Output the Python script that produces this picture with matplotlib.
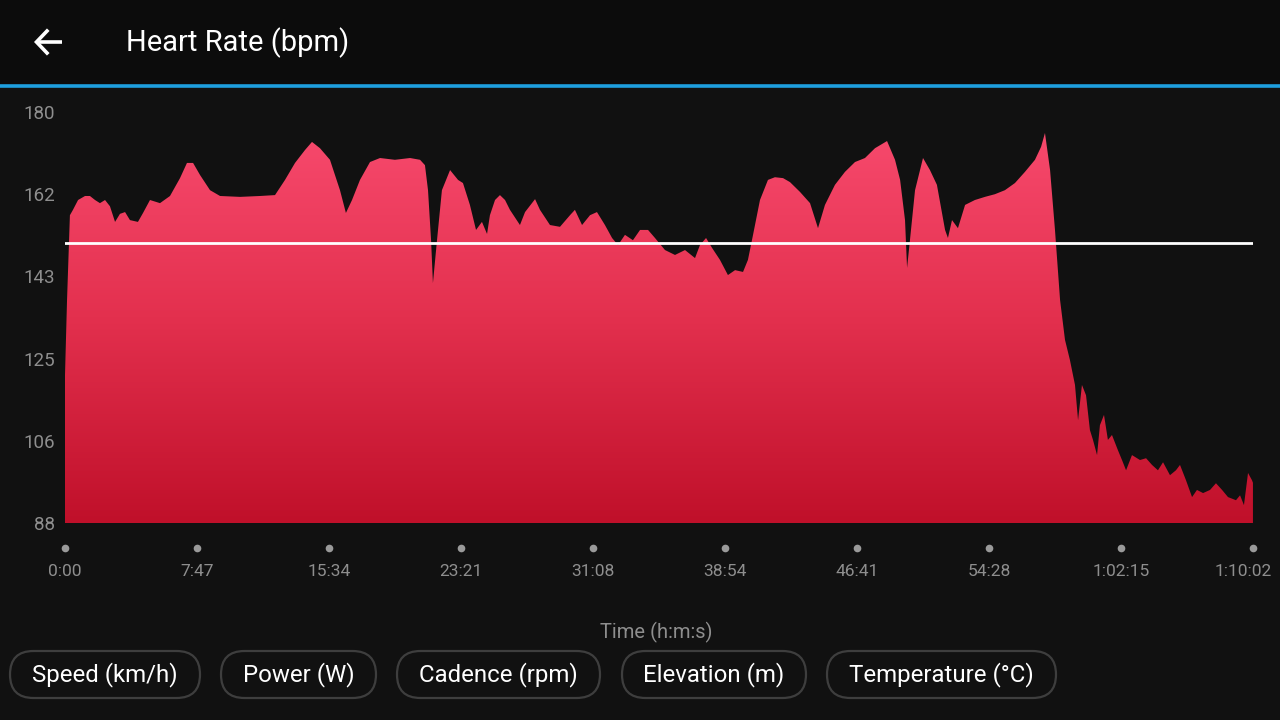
import numpy as np
import matplotlib
matplotlib.use("Agg")
import matplotlib.pyplot as plt
from matplotlib.patches import FancyBboxPatch
from matplotlib.colors import LinearSegmentedColormap

plt.rcParams['font.family'] = ['Roboto', 'DejaVu Sans']

# heart rate trace, time in minutes and bpm
t_min = [0, 0.12, 0.29, 0.47, 0.77, 1.18, 1.47, 1.77, 2.06, 2.36, 2.65, 2.95, 3.24, 3.54, 3.83, 4.30,
         4.60, 5.01, 5.60, 6.19, 6.78, 7.19, 7.55, 7.96, 8.55, 9.14, 10.32, 11.50, 12.38, 12.97, 13.56,
         14.15, 14.56, 15.03, 15.62, 16.21, 16.56, 16.92, 17.39, 17.98, 18.57, 19.45, 20.34, 20.93, 21.22,
         21.40, 21.58, 21.69, 21.93, 22.22, 22.70, 23.17, 23.46, 23.87, 24.23, 24.58, 24.88, 25.05, 25.35,
         25.64, 25.94, 26.23, 26.82, 27.12, 27.71, 28.00, 28.59, 29.18, 29.77, 30.06, 30.48, 30.95, 31.36,
         31.83, 32.25, 32.60, 33.01, 33.48, 33.90, 34.37, 34.78, 35.37, 35.96, 36.55, 37.14, 37.43, 37.79,
         38.14, 38.61, 39.08, 39.50, 39.97, 40.26, 40.56, 40.97, 41.44, 41.85, 42.33, 42.74, 43.33, 43.92,
         44.39, 44.80, 45.39, 45.98, 46.57, 47.16, 47.75, 48.46, 48.93, 49.23, 49.52, 49.64, 49.81, 50.11,
         50.58, 50.99, 51.40, 51.88, 52.05, 52.29, 52.64, 53.06, 53.64, 54.23, 54.82, 55.41, 56.00, 56.59,
         57.18, 57.54, 57.77, 58.07, 58.36, 58.66, 58.95, 59.24, 59.54, 59.72, 59.95, 60.19, 60.42, 60.60,
         60.84, 61.01, 61.25, 61.48, 61.72, 62.07, 62.31, 62.55, 62.90, 63.37, 63.73, 64.08, 64.43, 64.73,
         65.14, 65.49, 65.73, 66.08, 66.44, 66.73, 67.09, 67.50, 67.85, 68.21, 68.56, 69.03, 69.27, 69.50,
         69.74, 69.97, 70.03]
hr = [121.1, 137.9, 156.9, 158.1, 160.3, 161.2, 161.2, 160.3, 159.6, 160.3, 158.9, 155.4, 157.2, 157.6, 155.8, 155.4,
      157.4, 160.3, 159.6, 161.2, 165.2, 168.6, 168.6, 165.9, 162.5, 161.2, 161.0, 161.2, 161.4, 164.8, 168.6,
      171.5, 173.3, 171.9, 169.3, 162.5, 157.4, 160.3, 164.8, 168.8, 169.7, 169.3, 169.7, 169.3, 168.1,
      162.5, 151.3, 141.7, 151.3, 162.5, 167.0, 164.8, 164.1, 159.2, 153.6, 155.4, 152.7, 156.9, 160.3,
      161.4, 160.3, 158.1, 154.7, 157.6, 160.5, 158.1, 154.7, 154.3, 156.9, 158.1, 154.7, 156.9, 157.6,
      154.7, 151.8, 150.2, 152.5, 151.3, 153.6, 153.6, 151.8, 149.1, 148.0, 149.1, 147.3, 150.2, 151.8,
      149.6, 146.9, 143.5, 144.6, 144.2, 146.9, 152.5, 160.3, 164.8, 165.4, 165.2, 164.3, 162.1, 159.6,
      154.0, 159.2, 163.7, 166.6, 168.8, 169.7, 171.9, 173.5, 169.3, 164.8, 155.8, 145.1, 151.3, 162.5,
      169.7, 167.0, 163.7, 153.6, 151.8, 155.8, 154.0, 159.2, 160.3, 161.0, 161.6, 162.5, 164.1, 166.6,
      169.3, 172.2, 175.3, 167.0, 153.6, 137.9, 129.0, 124.5, 118.9, 111.0, 118.9, 116.6, 108.8, 106.6,
      103.2, 109.9, 112.2, 106.6, 107.7, 104.3, 102.1, 99.8, 103.2, 102.1, 102.5, 101.0, 99.8, 101.6,
      98.7, 99.8, 101.0, 97.6, 93.8, 95.4, 94.7, 95.4, 96.9, 95.4, 93.8, 93.1, 94.2, 92.0,
      99.2, 97.6, 97.0]
avg_hr = 150.7

y_ticks = [88, 106.4, 124.8, 143.2, 161.6, 180]
y_labels = ["88", "106", "125", "143", "162", "180"]
x_labels = ["0:00", "7:47", "15:34", "23:21", "31:08", "38:54", "46:41", "54:28", "1:02:15", "1:10:02"]
total_min = 4202 / 60
buttons = ["Speed (km/h)", "Power (W)", "Cadence (rpm)", "Elevation (m)", "Temperature (°C)"]
btn_x = [(10, 200), (221, 376), (397, 600), (622, 806), (827, 1056)]

bg = "#111111"
grey = "#8e8e8e"

fig = plt.figure(figsize=(12.8, 7.2), dpi=100, facecolor=bg)

# overlay in pixel coordinates for header, ticks and buttons
ov = fig.add_axes([0, 0, 1, 1])
ov.set_xlim(0, 1280)
ov.set_ylim(720, 0)
ov.axis("off")
ov.add_patch(plt.Rectangle((0, 0), 1280, 84, color="#0c0c0c", zorder=0))
ov.plot([0, 1280], [85.5, 85.5], color="#1e9fdf", lw=2.6, solid_capstyle="butt")
# back arrow
ov.plot([36, 62], [42, 42], color="white", lw=2.6, solid_capstyle="butt")
ov.plot([47, 36.5, 47], [31, 42, 53], color="white", lw=2.6, solid_joinstyle="miter")
ov.text(126, 43, "Heart Rate (bpm)", color="white", fontsize=21, va="center", ha="left")

for i, lab in enumerate(x_labels):
    px = 65 + i * (1253 - 65) / 9
    ov.plot(px, 548, "o", color="#9a9a9a", ms=5.5, mec="none")
    lx = px if i < 9 else 1243
    ov.text(lx, 571, lab, color=grey, fontsize=12.5, ha="center", va="center")

ov.text(656, 632, "Time (h:m:s)", color=grey, fontsize=14.5, ha="center", va="center")

for lab, (x0, x1) in zip(buttons, btn_x):
    pill = FancyBboxPatch((x0, 651), x1 - x0, 47,
                          boxstyle="round,pad=0,rounding_size=23.5",
                          fc="none", ec="#3e3e3e", lw=1.6)
    ov.add_patch(pill)
    ov.text((x0 + x1) / 2, 675, lab, color="white", fontsize=17.3, ha="center", va="center")

# chart
ax = fig.add_axes([65 / 1280, 1 - 523 / 720, (1253 - 65) / 1280, (523 - 112) / 720])
ax.set_facecolor("none")
ax.set_xlim(0, total_min)
ax.set_ylim(88, 180)

cmap = LinearSegmentedColormap.from_list("hr", ["#c0102a", "#e3304e", "#f94c70"])
grad = np.linspace(0, 1, 256).reshape(-1, 1)
img = ax.imshow(grad, extent=[0, total_min, 88, 180], origin="lower", cmap=cmap,
                aspect="auto", zorder=1)
poly = ax.fill_between(t_min, hr, 88, color="none", lw=0)
clip = poly.get_paths()[0]
img.set_clip_path(clip, transform=ax.transData)

ax.plot([0, total_min], [avg_hr, avg_hr], color="white", lw=2, zorder=3)

ax.set_yticks(y_ticks)
ax.set_yticklabels(y_labels)
ax.tick_params(axis="y", length=0, pad=7, labelcolor=grey, labelsize=13.5)
ax.set_xticks([])
for s in ax.spines.values():
    s.set_visible(False)

fig.savefig("out.png", dpi=100, facecolor=bg)
